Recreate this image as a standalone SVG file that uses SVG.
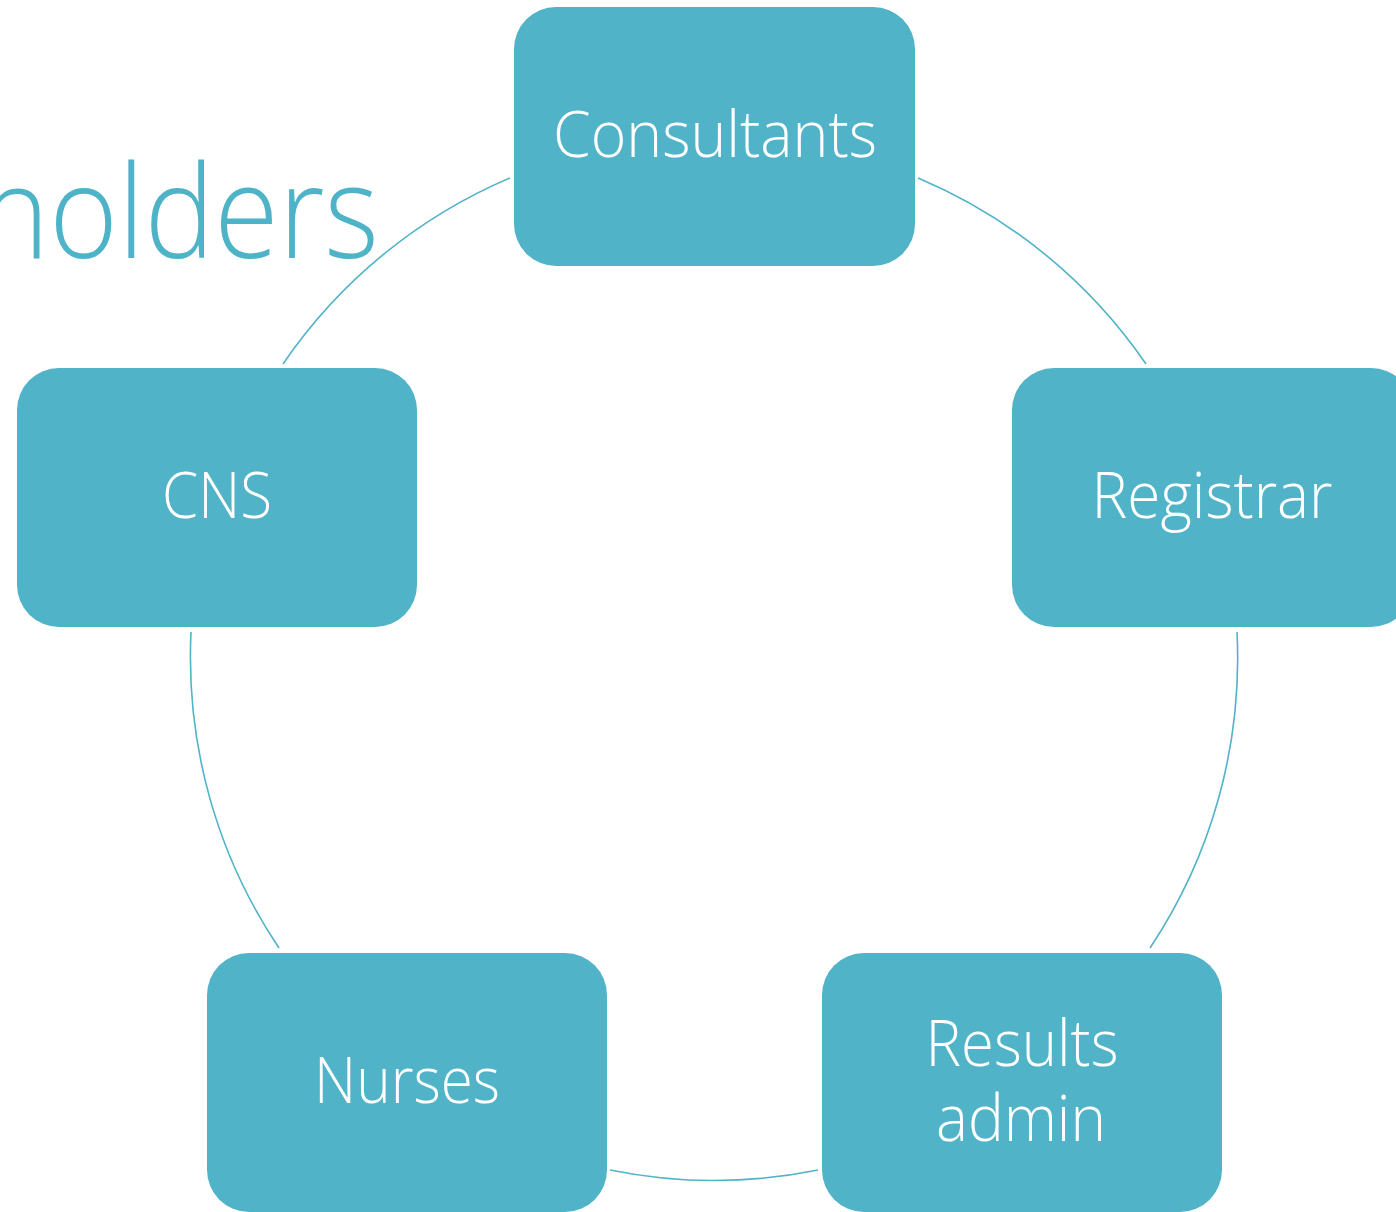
<svg xmlns="http://www.w3.org/2000/svg" width="1396" height="1212" viewBox="0 0 1396 1212">
  <style>
    .node { fill: #50B3C8; }
    .label { fill: #FFFFFF; font-family: "Open Sans", "Lato", "Liberation Sans", sans-serif; font-weight: 300; font-size: 64px; text-anchor: middle; }
    .title { fill: #4FB3C8; font-family: "Open Sans", "Lato", "Liberation Sans", sans-serif; font-weight: 300; font-size: 129px; }
    .link { fill: none; stroke: #50B3C8; stroke-width: 1.6; }
  </style>
  <rect x="0" y="0" width="1396" height="1212" fill="#FFFFFF"/>

  <text class="title" x="-20" y="258" textLength="399" lengthAdjust="spacingAndGlyphs">holders</text>

  <!-- ring segments between the boxes -->
  <g id="connectors">
    <path class="link" d="M 918 178 A 522 522 0 0 1 1146 364"/>
    <path class="link" d="M 1237 632 A 522 522 0 0 1 1150 948"/>
    <path class="link" d="M 818 1170 A 522 522 0 0 1 610 1170"/>
    <path class="link" d="M 279 948 A 522 522 0 0 1 191 632"/>
    <path class="link" d="M 283 364 A 522 522 0 0 1 510 178"/>
  </g>

  <g id="consultants">
    <rect class="node" x="514" y="7" width="401" height="259" rx="42" ry="42"/>
    <text class="label" x="715" y="157" textLength="324" lengthAdjust="spacingAndGlyphs">Consultants</text>
  </g>
  <g id="registrar">
    <rect class="node" x="1012" y="368" width="401" height="259" rx="42" ry="42"/>
    <text class="label" x="1212" y="518" textLength="241" lengthAdjust="spacingAndGlyphs">Registrar</text>
  </g>
  <g id="results-admin">
    <rect class="node" x="822" y="953" width="400" height="259" rx="42" ry="42"/>
    <text class="label" x="1022" y="1066" textLength="193" lengthAdjust="spacingAndGlyphs">Results</text>
    <text class="label" x="1021" y="1141" textLength="170" lengthAdjust="spacingAndGlyphs">admin</text>
  </g>
  <g id="nurses">
    <rect class="node" x="207" y="953" width="400" height="259" rx="42" ry="42"/>
    <text class="label" x="407" y="1103" textLength="186" lengthAdjust="spacingAndGlyphs">Nurses</text>
  </g>
  <g id="cns">
    <rect class="node" x="17" y="368" width="400" height="259" rx="42" ry="42"/>
    <text class="label" x="217" y="518" textLength="110" lengthAdjust="spacingAndGlyphs">CNS</text>
  </g>
</svg>
